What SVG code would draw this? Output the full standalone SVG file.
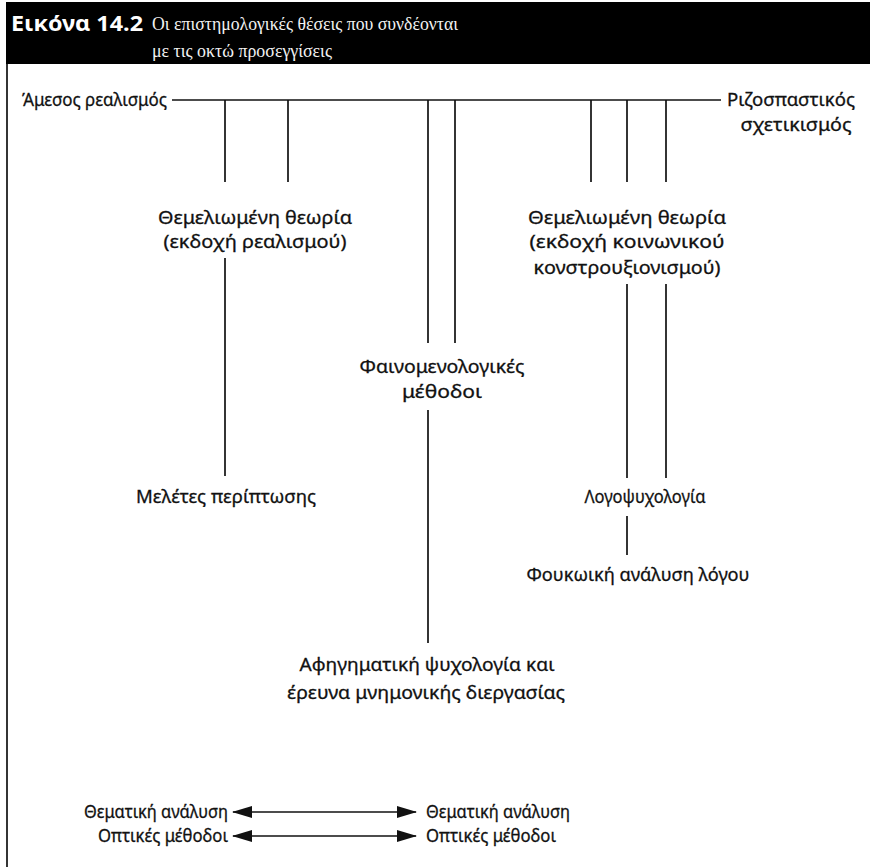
<svg xmlns="http://www.w3.org/2000/svg" width="870" height="867" viewBox="0 0 870 867">
<style>
.t{font-family:"Noto Sans","Open Sans","DejaVu Sans",sans-serif;font-size:18.5px;fill:#111;stroke:#111;stroke-width:0.3;}
.m{text-anchor:middle;}
.e{text-anchor:end;}
.ln{stroke:#111;stroke-width:1.7;fill:none;}
.ttl{font-family:"Noto Sans","Open Sans",sans-serif;font-weight:bold;font-size:22px;fill:#fff;}
.sub{font-family:"Liberation Serif","DejaVu Serif",serif;font-size:18.5px;fill:#f2f2f2;}
</style>
<defs>
<marker id="ah" viewBox="0 0 20 12" refX="19" refY="6" markerWidth="20" markerHeight="12" markerUnits="userSpaceOnUse" orient="auto-start-reverse">
<path d="M0,0 L20,6 L0,12 Z" fill="#111"/>
</marker>
</defs>
<rect width="870" height="867" fill="#fff"/>
<g id="header">
<rect x="6" y="2" width="864" height="62" fill="#000"/>
<text class="ttl" x="11" y="31" textLength="132" lengthAdjust="spacingAndGlyphs">Εικόνα 14.2</text>
<text class="sub" x="152" y="30" textLength="306" lengthAdjust="spacingAndGlyphs">Οι επιστημολογικές θέσεις που συνδέονται</text>
<text class="sub" x="152" y="57" textLength="180" lengthAdjust="spacingAndGlyphs">με τις οκτώ προσεγγίσεις</text>
</g>
<line class="ln" x1="7" y1="64" x2="7" y2="867"/>
<g id="connectors">
<line class="ln" x1="172" y1="100" x2="721" y2="100"/>
<line class="ln" x1="225" y1="100" x2="225" y2="182"/>
<line class="ln" x1="288" y1="100" x2="288" y2="182"/>
<line class="ln" x1="428" y1="100" x2="428" y2="343"/>
<line class="ln" x1="455" y1="100" x2="455" y2="343"/>
<line class="ln" x1="591" y1="100" x2="591" y2="182"/>
<line class="ln" x1="627" y1="100" x2="627" y2="182"/>
<line class="ln" x1="666" y1="100" x2="666" y2="182"/>
<line class="ln" x1="225" y1="258" x2="225" y2="476"/>
<line class="ln" x1="627" y1="284" x2="627" y2="478"/>
<line class="ln" x1="666" y1="284" x2="666" y2="478"/>
<line class="ln" x1="627" y1="516" x2="627" y2="555"/>
<line class="ln" x1="428" y1="410" x2="428" y2="643"/>
<line class="ln" x1="233" y1="812" x2="416" y2="812" marker-start="url(#ah)" marker-end="url(#ah)"/>
<line class="ln" x1="233" y1="836" x2="416" y2="836" marker-start="url(#ah)" marker-end="url(#ah)"/>
</g>
<g id="n-amesos"><text class="t" x="22" y="106" textLength="145" lengthAdjust="spacingAndGlyphs">Άμεσος ρεαλισμός</text></g>
<g id="n-rizo"><text class="t m" x="791" y="106" textLength="128" lengthAdjust="spacingAndGlyphs">Ριζοσπαστικός</text><text class="t m" x="796" y="131" textLength="111" lengthAdjust="spacingAndGlyphs">σχετικισμός</text></g>
<g id="n-gt1"><text class="t m" x="255" y="224" textLength="194" lengthAdjust="spacingAndGlyphs">Θεμελιωμένη θεωρία</text><text class="t m" x="255" y="248" textLength="183" lengthAdjust="spacingAndGlyphs">(εκδοχή ρεαλισμού)</text></g>
<g id="n-gt2"><text class="t m" x="627" y="224" textLength="198" lengthAdjust="spacingAndGlyphs">Θεμελιωμένη θεωρία</text><text class="t m" x="627" y="248" textLength="195" lengthAdjust="spacingAndGlyphs">(εκδοχή κοινωνικού</text><text class="t m" x="627" y="274" textLength="187" lengthAdjust="spacingAndGlyphs">κονστρουξιονισμού)</text></g>
<g id="n-phen"><text class="t m" x="442" y="373" textLength="165" lengthAdjust="spacingAndGlyphs">Φαινομενολογικές</text><text class="t m" x="442" y="398" textLength="80" lengthAdjust="spacingAndGlyphs">μέθοδοι</text></g>
<g id="n-case"><text class="t m" x="226" y="503" textLength="180" lengthAdjust="spacingAndGlyphs">Μελέτες περίπτωσης</text></g>
<g id="n-logo"><text class="t m" x="645" y="503" textLength="121" lengthAdjust="spacingAndGlyphs">Λογοψυχολογία</text></g>
<g id="n-fouc"><text class="t m" x="638" y="581" textLength="223" lengthAdjust="spacingAndGlyphs">Φουκωική ανάλυση λόγου</text></g>
<g id="n-narr"><text class="t m" x="427" y="671" textLength="255" lengthAdjust="spacingAndGlyphs">Αφηγηματική ψυχολογία και</text><text class="t m" x="426" y="699" textLength="278" lengthAdjust="spacingAndGlyphs">έρευνα μνημονικής διεργασίας</text></g>
<g id="n-them"><text class="t e" x="228" y="818" textLength="144" lengthAdjust="spacingAndGlyphs">Θεματική ανάλυση</text><text class="t" x="426" y="818" textLength="144" lengthAdjust="spacingAndGlyphs">Θεματική ανάλυση</text></g>
<g id="n-opt"><text class="t e" x="228" y="842" textLength="130" lengthAdjust="spacingAndGlyphs">Οπτικές μέθοδοι</text><text class="t" x="426" y="842" textLength="130" lengthAdjust="spacingAndGlyphs">Οπτικές μέθοδοι</text></g>
</svg>
